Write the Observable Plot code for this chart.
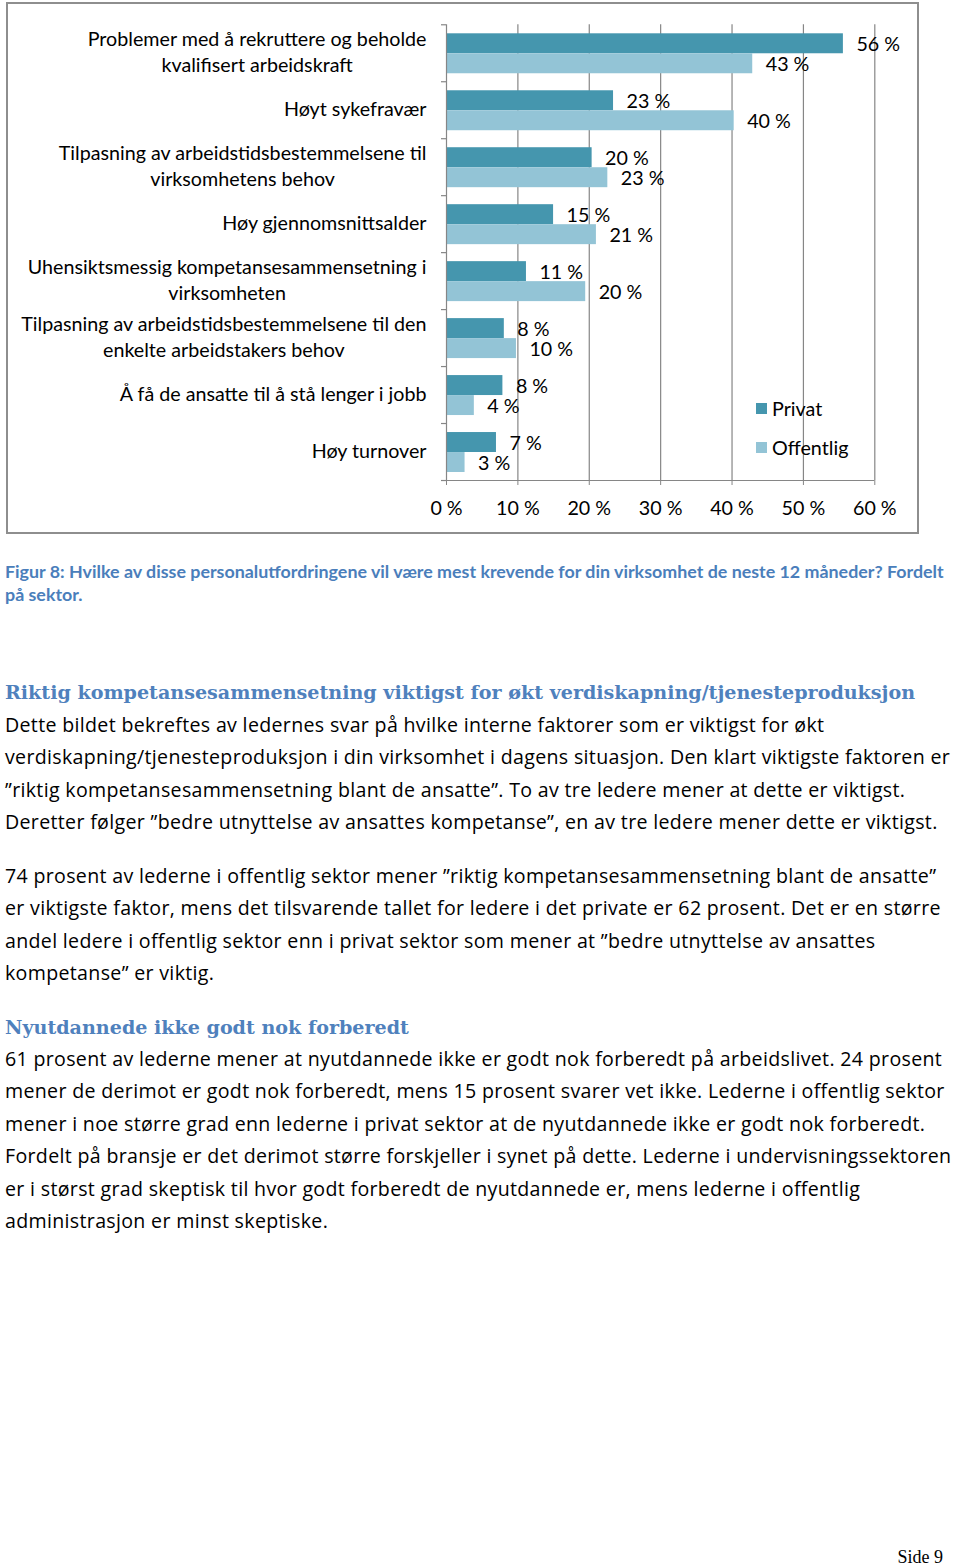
<!DOCTYPE html>
<html><head><meta charset="utf-8">
<script src="https://cdn.jsdelivr.net/npm/d3@7"></script>
<script src="https://cdn.jsdelivr.net/npm/@observablehq/plot@0.6"></script>
<style>
body{margin:0;background:#fff;width:960px;height:1567px;position:relative;overflow:hidden;font-family:"Open Sans",Lato,sans-serif;color:#000}
#box{position:absolute;left:6px;top:2px;width:913px;height:532px;box-sizing:border-box;border:2px solid #8e8e8e;background:#fff}
#box svg{position:absolute;left:0;top:0}
#legend{position:absolute;left:756px;top:389px;font-family:Lato,sans-serif;font-size:19.7px}
#legend .item{display:flex;align-items:center;height:39px;line-height:19px}
#legend .sw{width:11px;height:11px;margin-right:5px}
.caption{position:absolute;left:5px;top:559.5px;font-family:Lato,sans-serif;font-weight:bold;color:#4a7ebb;font-size:17.85px;line-height:23px;white-space:nowrap}
.h{position:absolute;left:5px;font-family:"DejaVu Serif",serif;font-weight:bold;color:#4f81bd;font-size:19.1px;line-height:30px;white-space:nowrap}
.p{position:absolute;left:5px;font-size:19.6px;letter-spacing:0.32px;line-height:32.5px;white-space:nowrap}
.side{position:absolute;right:17px;top:1542px;font-family:"Liberation Serif",serif;font-size:18px;line-height:30px}
</style>
</head><body>
<div id="box"></div>
<div id="legend"></div>
<div class="caption">Figur 8: Hvilke av disse personalutfordringene vil være mest krevende for din virksomhet de neste 12 måneder? Fordelt<br>på sektor.</div>
<div class="h" style="top:678px">Riktig kompetansesammensetning viktigst for økt verdiskapning/tjenesteproduksjon</div>
<div class="p" style="top:708.75px">Dette bildet bekreftes av ledernes svar på hvilke interne faktorer som er viktigst for økt<br>verdiskapning/tjenesteproduksjon i din virksomhet i dagens situasjon. Den klart viktigste faktoren er<br>”riktig kompetansesammensetning blant de ansatte”. To av tre ledere mener at dette er viktigst.<br>Deretter følger ”bedre utnyttelse av ansattes kompetanse”, en av tre ledere mener dette er viktigst.</div>
<div class="p" style="top:859.75px">74 prosent av lederne i offentlig sektor mener ”riktig kompetansesammensetning blant de ansatte”<br>er viktigste faktor, mens det tilsvarende tallet for ledere i det private er 62 prosent. Det er en større<br>andel ledere i offentlig sektor enn i privat sektor som mener at ”bedre utnyttelse av ansattes<br>kompetanse” er viktig.</div>
<div class="h" style="top:1013px">Nyutdannede ikke godt nok forberedt</div>
<div class="p" style="top:1042.75px">61 prosent av lederne mener at nyutdannede ikke er godt nok forberedt på arbeidslivet. 24 prosent<br>mener de derimot er godt nok forberedt, mens 15 prosent svarer vet ikke. Lederne i offentlig sektor<br>mener i noe større grad enn lederne i privat sektor at de nyutdannede ikke er godt nok forberedt.<br>Fordelt på bransje er det derimot større forskjeller i synet på dette. Lederne i undervisningssektoren<br>er i størst grad skeptisk til hvor godt forberedt de nyutdannede er, mens lederne i offentlig<br>administrasjon er minst skeptiske.</div>
<div class="side">Side 9</div>
<script>
const categories = [
  "Problemer med å rekruttere og beholde kvalifisert arbeidskraft",
  "Høyt sykefravær",
  "Tilpasning av arbeidstidsbestemmelsene til virksomhetens behov",
  "Høy gjennomsnittsalder",
  "Uhensiktsmessig kompetansesammensetning i virksomheten",
  "Tilpasning av arbeidstidsbestemmelsene til den enkelte arbeidstakers behov",
  "Å få de ansatte til å stå lenger i jobb",
  "Høy turnover"
];
const categoryLabels = [
  "Problemer med å rekruttere og beholde\nkvalifisert arbeidskraft",
  "Høyt sykefravær",
  "Tilpasning av arbeidstidsbestemmelsene til\nvirksomhetens behov",
  "Høy gjennomsnittsalder",
  "Uhensiktsmessig kompetansesammensetning i\nvirksomheten",
  "Tilpasning av arbeidstidsbestemmelsene til den\nenkelte arbeidstakers behov",
  "Å få de ansatte til å stå lenger i jobb",
  "Høy turnover"
];
const series = ["Privat", "Offentlig"];
const seriesColors = ["#4596ae", "#93c4d6"];
const privat =    [55.6, 23.4, 20.4, 15.0, 11.2, 8.1, 7.9, 7.0];
const offentlig = [42.9, 40.3, 22.6, 21.0, 19.5, 9.8, 3.9, 2.6];
const xTicks = [0, 10, 20, 30, 40, 50, 60];
const tickLabel = d => d + " %";

const rows = categories.flatMap((c, i) => [
  {cat: c, sector: "Privat", value: privat[i]},
  {cat: c, sector: "Offentlig", value: offentlig[i]}
]);
const rowsP = rows.filter(d => d.sector === "Privat");
const rowsO = rows.filter(d => d.sector === "Offentlig");
const grey = "#868686";
const last = categories[categories.length - 1];

const chart = Plot.plot({
  width: 909,
  height: 528,
  marginLeft: 438,
  marginRight: 42.7,
  marginTop: 20.3,
  marginBottom: 52,
  style: {fontFamily: "Lato, 'Open Sans', sans-serif", fontSize: "19.7px", color: "#000", background: "transparent"},
  x: {domain: [0, 60], label: null},
  y: {domain: categories, padding: 0, round: false, axis: null},
  color: {domain: series, range: seriesColors},
  marks: [
    Plot.ruleX(xTicks.slice(1), {stroke: grey, strokeWidth: 1.2}),
    Plot.barX(rowsP, {x: "value", y: "cat", fill: "sector", insetTop: 9, insetBottom: 28}),
    Plot.barX(rowsO, {x: "value", y: "cat", fill: "sector", insetTop: 29, insetBottom: 8}),
    Plot.ruleX([0], {stroke: grey, strokeWidth: 1.2}),
    Plot.ruleY(categories, {y: d => d, x1: 0, x2: 0, insetLeft: -5, dy: -28.5, stroke: grey, strokeWidth: 1.2}),
    Plot.ruleY([last], {y: d => d, x1: 0, x2: 0, insetLeft: -5, dy: 28.5, stroke: grey, strokeWidth: 1.2}),
    Plot.ruleY([last], {y: d => d, x1: 0, x2: 60, dy: 28.5, stroke: grey, strokeWidth: 1.2}),
    Plot.axisX(xTicks, {tickFormat: tickLabel, tickSize: 5, tickPadding: 15.5, stroke: grey, fill: "#000", label: null}),
    Plot.text(rowsP, {x: "value", y: "cat", text: d => Math.round(d.value) + " %", textAnchor: "start", dx: 13, dy: -8.8, fill: "#000"}),
    Plot.text(rowsO, {x: "value", y: "cat", text: d => Math.round(d.value) + " %", textAnchor: "start", dx: 13, dy: 11.2, fill: "#000"}),
    Plot.text(categories, {y: d => d, frameAnchor: "left", dx: -20, dy: -2.5, text: (d, i) => categoryLabels[i], textAnchor: "end", lineAnchor: "middle", lineHeight: 1.3, fill: "#000", ariaLabel: "catlabels"})
  ]
});
document.getElementById("box").appendChild(chart);

// center wrapped lines within each label block (right edge stays fixed)
function centerLabels() {
  chart.querySelectorAll("text").forEach(t => {
    const spans = t.querySelectorAll("tspan");
    if (spans.length < 2) return;
    spans.forEach(s => s.setAttribute("x", 0));
    t.style.textAnchor = "start";
    const ws = Array.from(spans, s => s.getComputedTextLength());
    const w = Math.max(...ws);
    spans.forEach((s, j) => {
      s.style.textAnchor = "start";
      s.setAttribute("x", -w + (w - ws[j]) / 2);
    });
  });
}
centerLabels();
if (document.fonts && document.fonts.ready) document.fonts.ready.then(centerLabels);

const legend = document.getElementById("legend");
series.forEach((s, i) => {
  const item = document.createElement("div");
  item.className = "item";
  const sw = document.createElement("span");
  sw.className = "sw";
  sw.style.background = seriesColors[i];
  const lab = document.createElement("span");
  lab.textContent = s;
  item.appendChild(sw); item.appendChild(lab);
  legend.appendChild(item);
});
</script>
</body></html>
